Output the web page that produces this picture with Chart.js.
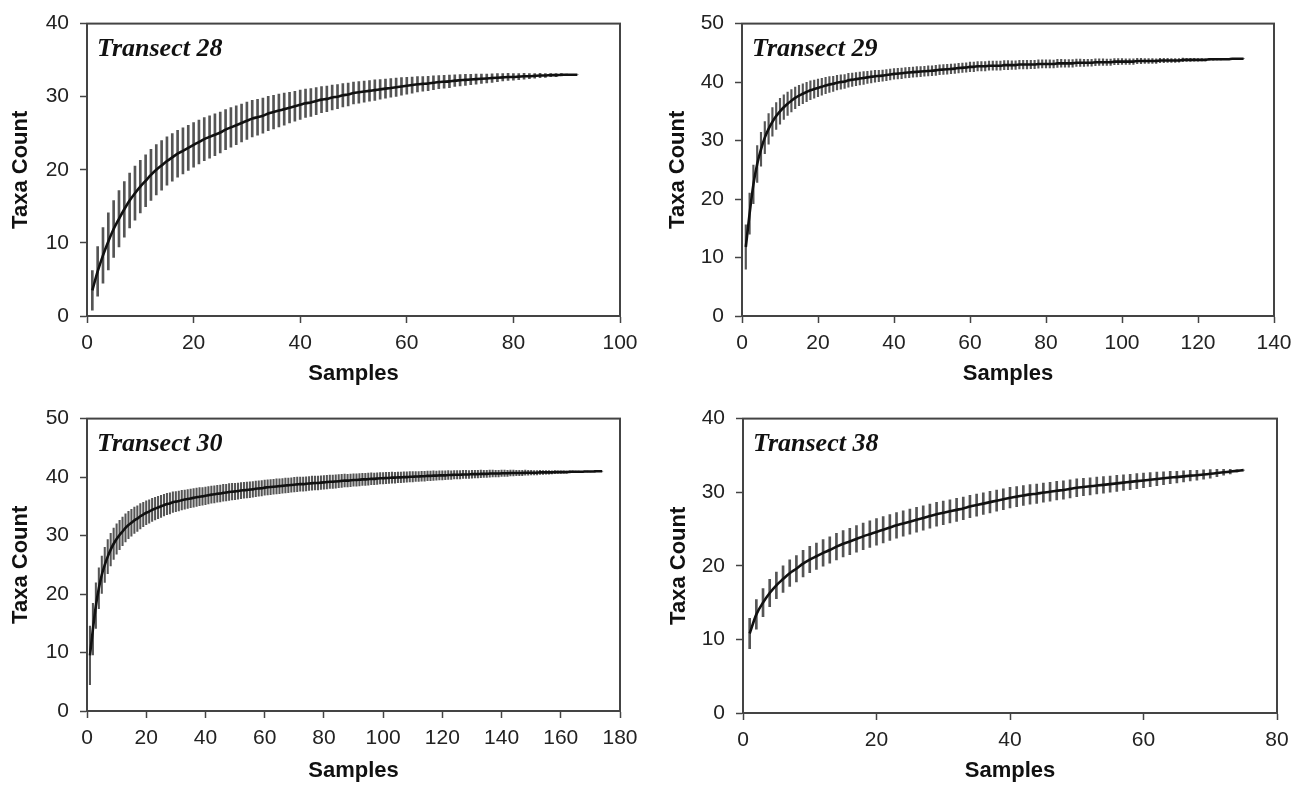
<!DOCTYPE html>
<html>
<head>
<meta charset="utf-8">
<script src="https://cdn.jsdelivr.net/npm/chart.js@4.4.0/dist/chart.umd.min.js"></script>
<style>
  body { margin: 0; background: #fff; }
  #wrap { position: relative; width: 1301px; height: 785px; overflow: hidden; }
  canvas { position: absolute; }
</style>
</head>
<body>
<div id="wrap">
  <canvas id="c28" width="650" height="395" style="left:0;top:0"></canvas>
  <canvas id="c29" width="651" height="395" style="left:650px;top:0"></canvas>
  <canvas id="c30" width="650" height="390" style="left:0;top:395px"></canvas>
  <canvas id="c38" width="651" height="390" style="left:650px;top:395px"></canvas>
</div>
<script>
// mean taxa count per number of samples (sample n = index + 1)
const t28Mean = [3.5,6.1,8.3,10.2,11.9,13.3,14.6,15.8,16.8,17.7,
  18.5,19.3,20.0,20.6,21.2,21.7,22.2,22.6,23.0,23.4,
  23.8,24.2,24.5,24.8,25.1,25.5,25.8,26.1,26.4,26.7,
  27.0,27.2,27.4,27.7,27.9,28.1,28.3,28.5,28.7,28.9,
  29.1,29.2,29.4,29.6,29.7,29.9,30.0,30.2,30.3,30.5,
  30.6,30.7,30.8,30.9,31.0,31.1,31.2,31.3,31.4,31.5,
  31.6,31.7,31.75,31.8,31.9,32.0,32.05,32.1,32.2,32.25,
  32.3,32.35,32.4,32.45,32.5,32.55,32.6,32.65,32.7,32.7,
  32.75,32.8,32.8,32.85,32.9,32.9,32.95,32.95,33.0,33.0,
  33.0,33.0];
// error bar half-widths
const t28Err = [2.7,3.4,3.8,3.9,3.9,3.85,3.8,3.75,3.7,3.6,
  3.55,3.5,3.45,3.4,3.3,3.25,3.2,3.15,3.1,3.05,
  3.0,2.95,2.9,2.85,2.8,2.75,2.7,2.65,2.6,2.55,
  2.5,2.45,2.4,2.35,2.3,2.25,2.2,2.1,2.05,2.0,
  1.95,1.9,1.85,1.8,1.75,1.7,1.65,1.6,1.55,1.5,
  1.48,1.45,1.42,1.4,1.35,1.3,1.28,1.25,1.2,1.15,
  1.1,1.05,1.0,0.98,0.95,0.9,0.88,0.85,0.8,0.78,
  0.75,0.7,0.68,0.65,0.6,0.58,0.55,0.5,0.48,0.45,
  0.42,0.4,0.35,0.32,0.3,0.25,0.22,0.2,0.15,0.1,
  0.05,0];

const t29Mean = [11.8,17.5,22.5,26.0,28.5,30.5,32.0,33.2,34.2,35.0,
  35.7,36.3,36.8,37.3,37.7,38.0,38.3,38.6,38.8,39.0,
  39.2,39.4,39.6,39.7,39.9,40.0,40.1,40.3,40.4,40.5,
  40.6,40.7,40.8,40.9,41.0,41.05,41.1,41.2,41.3,41.4,
  41.45,41.5,41.6,41.65,41.7,41.75,41.8,41.85,41.9,41.95,
  42.0,42.1,42.15,42.2,42.25,42.3,42.4,42.45,42.5,42.6,
  42.6,42.7,42.7,42.7,42.8,42.8,42.8,42.8,42.9,42.9,
  42.9,42.9,43.0,43.0,43.0,43.0,43.0,43.1,43.1,43.1,
  43.1,43.1,43.2,43.2,43.2,43.2,43.2,43.3,43.3,43.3,
  43.3,43.3,43.4,43.4,43.4,43.4,43.4,43.5,43.5,43.5,
  43.5,43.5,43.5,43.6,43.6,43.6,43.6,43.6,43.6,43.7,
  43.7,43.7,43.7,43.7,43.7,43.8,43.8,43.8,43.8,43.8,
  43.8,43.8,43.9,43.9,43.9,43.9,43.9,43.9,44.0,44.0,44.0,44.0];
const t29Err = [3.8,3.5,3.3,3.15,2.9,2.75,2.6,2.45,2.3,2.2,
  2.1,2.0,1.9,1.85,1.75,1.7,1.65,1.6,1.55,1.5,
  1.45,1.4,1.35,1.3,1.25,1.22,1.2,1.18,1.15,1.12,
  1.1,1.08,1.05,1.03,1.0,0.98,0.96,0.95,0.93,0.92,
  0.91,0.9,0.9,0.89,0.88,0.88,0.87,0.86,0.86,0.85,
  0.85,0.84,0.84,0.83,0.83,0.82,0.82,0.81,0.81,0.8,
  0.8,0.8,0.79,0.79,0.78,0.78,0.77,0.77,0.76,0.76,
  0.75,0.75,0.74,0.74,0.73,0.72,0.72,0.71,0.7,0.7,
  0.69,0.68,0.68,0.67,0.66,0.65,0.64,0.63,0.62,0.61,
  0.6,0.59,0.58,0.57,0.56,0.55,0.54,0.53,0.52,0.5,
  0.49,0.48,0.47,0.45,0.44,0.43,0.42,0.4,0.39,0.38,
  0.36,0.35,0.33,0.32,0.3,0.29,0.27,0.25,0.24,0.22,
  0.2,0.18,0.16,0.14,0.12,0.1,0.08,0.06,0.05,0.03,0.02,0];

const t30Mean = [9.5,14.0,18.0,21.0,23.3,25.0,26.4,27.6,28.6,29.4,
  30.1,30.7,31.3,31.8,32.2,32.6,32.9,33.3,33.6,33.9,
  34.1,34.4,34.6,34.8,35.0,35.2,35.4,35.5,35.7,35.8,
  35.9,36.05,36.15,36.25,36.35,36.45,36.55,36.65,36.7,36.8,
  36.9,37.0,37.05,37.15,37.2,37.3,37.35,37.45,37.5,37.55,
  37.6,37.7,37.75,37.8,37.85,37.9,38.0,38.05,38.1,38.2,
  38.25,38.3,38.35,38.4,38.45,38.5,38.55,38.6,38.65,38.7,
  38.75,38.8,38.8,38.85,38.9,38.95,39.0,39.0,39.05,39.1,
  39.15,39.2,39.2,39.25,39.3,39.35,39.4,39.4,39.45,39.5,
  39.5,39.55,39.6,39.6,39.65,39.7,39.7,39.75,39.8,39.8,
  39.85,39.85,39.9,39.9,39.95,39.95,40.0,40.0,40.05,40.05,
  40.1,40.1,40.15,40.15,40.2,40.2,40.25,40.25,40.3,40.3,
  40.3,40.35,40.35,40.4,40.4,40.4,40.45,40.45,40.45,40.5,
  40.5,40.5,40.55,40.55,40.55,40.6,40.6,40.6,40.6,40.65,
  40.65,40.65,40.7,40.7,40.7,40.7,40.7,40.75,40.75,40.75,
  40.75,40.75,40.8,40.8,40.8,40.8,40.8,40.85,40.85,40.85,
  40.85,40.85,40.9,40.9,40.9,40.9,40.9,40.95,40.95,40.95,
  40.95,41.0,41.0,41.0];
const t30Err = [5.0,4.4,3.9,3.5,3.2,3.0,2.9,2.8,2.7,2.6,
  2.5,2.45,2.4,2.35,2.3,2.25,2.2,2.15,2.1,2.05,
  2.0,1.97,1.94,1.91,1.88,1.85,1.82,1.79,1.76,1.73,
  1.7,1.67,1.64,1.62,1.6,1.58,1.56,1.54,1.52,1.5,
  1.49,1.48,1.47,1.46,1.45,1.44,1.43,1.42,1.41,1.4,
  1.39,1.38,1.37,1.36,1.35,1.34,1.33,1.32,1.31,1.3,
  1.3,1.29,1.28,1.28,1.27,1.26,1.26,1.25,1.24,1.24,
  1.23,1.22,1.22,1.21,1.2,1.2,1.19,1.18,1.18,1.17,
  1.16,1.15,1.14,1.13,1.12,1.11,1.1,1.09,1.08,1.07,
  1.06,1.05,1.04,1.03,1.02,1.01,1.0,0.99,0.98,0.97,
  0.96,0.95,0.94,0.93,0.92,0.91,0.9,0.89,0.88,0.87,
  0.86,0.85,0.84,0.83,0.82,0.81,0.8,0.79,0.78,0.77,
  0.76,0.75,0.74,0.73,0.72,0.71,0.7,0.69,0.68,0.67,
  0.66,0.65,0.63,0.62,0.61,0.6,0.58,0.57,0.56,0.55,
  0.53,0.52,0.5,0.49,0.47,0.46,0.44,0.43,0.41,0.4,
  0.38,0.36,0.35,0.33,0.31,0.3,0.28,0.26,0.24,0.22,
  0.2,0.19,0.17,0.15,0.13,0.12,0.1,0.08,0.07,0.05,
  0.04,0.02,0.01,0];

const t38Mean = [10.8,13.4,15.0,16.3,17.35,18.2,19.0,19.6,20.3,20.85,
  21.3,21.75,22.15,22.6,23.0,23.3,23.65,24.0,24.3,24.6,
  24.9,25.2,25.5,25.75,26.0,26.25,26.5,26.75,27.0,27.2,
  27.4,27.6,27.8,28.05,28.25,28.45,28.65,28.85,29.05,29.25,
  29.4,29.55,29.7,29.8,29.95,30.05,30.2,30.3,30.45,30.6,
  30.7,30.8,30.9,31.0,31.1,31.2,31.3,31.4,31.5,31.6,
  31.7,31.8,31.9,32.0,32.05,32.15,32.25,32.3,32.4,32.5,
  32.6,32.7,32.8,32.9,33.0];
const t38Err = [2.05,2.0,1.9,1.85,1.8,1.8,1.8,1.8,1.8,1.8,
  1.8,1.8,1.8,1.8,1.8,1.8,1.8,1.8,1.8,1.8,
  1.78,1.76,1.74,1.72,1.7,1.68,1.66,1.64,1.62,1.6,
  1.58,1.56,1.54,1.52,1.5,1.48,1.46,1.44,1.42,1.4,
  1.38,1.36,1.34,1.32,1.3,1.28,1.26,1.24,1.22,1.2,
  1.18,1.16,1.14,1.12,1.1,1.08,1.06,1.04,1.02,1.0,
  0.96,0.92,0.88,0.84,0.8,0.76,0.72,0.68,0.64,0.58,
  0.5,0.4,0.3,0.15,0];

// axis limits / tick steps
const xMax = { t28: 100, t29: 140, t30: 180, t38: 80 };
const yMax = { t28: 40, t29: 50, t30: 50, t38: 40 };
const xStep = 20;
const yStep = 10;

const axisColor = '#444';
const tickFont = { family: '"Liberation Sans", Arial, sans-serif', size: 21 };
const titleFont = { family: '"Liberation Sans", Arial, sans-serif', size: 22, weight: 'bold' };

// frame round the plot + "Transect NN" label inside it
const framePlugin = {
  id: 'frame',
  afterDraw(chart, args, opts) {
    const { ctx, chartArea: a } = chart;
    ctx.save();
    ctx.strokeStyle = axisColor;
    ctx.lineWidth = 2;
    ctx.strokeRect(a.left, a.top, a.right - a.left, a.bottom - a.top);
    ctx.font = 'italic bold 26px "Liberation Serif", "Times New Roman", serif';
    ctx.fillStyle = '#111';
    ctx.textBaseline = 'alphabetic';
    ctx.fillText(opts.label, a.left + 10, a.top + 32);
    ctx.restore();
  }
};

function makePanel(id, label, mean, err, xmax, ymax, box) {
  const line = mean.map((v, i) => ({ x: i + 1, y: v }));
  const bars = mean.map((v, i) => ({ x: i + 1, y: [v - err[i], v + err[i]] }));

  return new Chart(document.getElementById(id), {
    type: 'line',
    data: {
      datasets: [
        {
          type: 'bar',
          data: bars,
          backgroundColor: '#555',
          borderWidth: 0,
          barThickness: box.bar,
          grouped: false,
          order: 2
        },
        {
          type: 'line',
          data: line,
          borderColor: '#111',
          borderWidth: 2.6,
          pointRadius: 0,
          cubicInterpolationMode: 'monotone',
          fill: false,
          order: 1
        }
      ]
    },
    options: {
      responsive: false,
      animation: false,
      layout: { padding: { top: box.top, right: box.right, left: 0, bottom: 0 } },
      plugins: {
        legend: { display: false },
        tooltip: { enabled: false },
        frame: { label: label }
      },
      scales: {
        x: {
          type: 'linear',
          min: 0,
          max: xmax,
          offset: false,
          afterFit: s => { s.height = box.xHeight; },
          grid: { offset: false, drawOnChartArea: false, drawTicks: true, tickLength: 7, tickColor: axisColor, tickWidth: 1.5 },
          border: { display: true, color: axisColor, width: 2 },
          ticks: { stepSize: xStep, padding: 8, color: '#222', font: tickFont, maxRotation: 0, autoSkip: false },
          title: { display: true, text: 'Samples', color: '#111', font: titleFont, padding: { top: 0, bottom: box.xTitlePad } }
        },
        y: {
          type: 'linear',
          min: 0,
          max: ymax,
          afterFit: s => { s.width = box.yWidth; },
          grid: { drawOnChartArea: false, drawTicks: true, tickLength: 7, tickColor: axisColor, tickWidth: 1.5 },
          border: { display: true, color: axisColor, width: 2 },
          ticks: { stepSize: yStep, padding: 11, color: '#222', font: tickFont },
          title: { display: true, text: 'Taxa Count', color: '#111', font: titleFont, padding: { top: box.yTitlePad, bottom: 0 } }
        }
      }
    },
    plugins: [framePlugin]
  });
}

makePanel('c28', 'Transect 28', t28Mean, t28Err, xMax.t28, yMax.t28,
  { top: 20, right: 30, yWidth: 87, xHeight: 79, yTitlePad: 8, xTitlePad: 8, bar: 2 });
makePanel('c29', 'Transect 29', t29Mean, t29Err, xMax.t29, yMax.t29,
  { top: 20, right: 27, yWidth: 92, xHeight: 79, yTitlePad: 15, xTitlePad: 8, bar: 1.5 });
makePanel('c30', 'Transect 30', t30Mean, t30Err, xMax.t30, yMax.t30,
  { top: 18, right: 30, yWidth: 87, xHeight: 74, yTitlePad: 8, xTitlePad: 1, bar: 1.4 });
makePanel('c38', 'Transect 38', t38Mean, t38Err, xMax.t38, yMax.t38,
  { top: 19, right: 24, yWidth: 93, xHeight: 72, yTitlePad: 16, xTitlePad: 1, bar: 2 });
</script>
</body>
</html>
